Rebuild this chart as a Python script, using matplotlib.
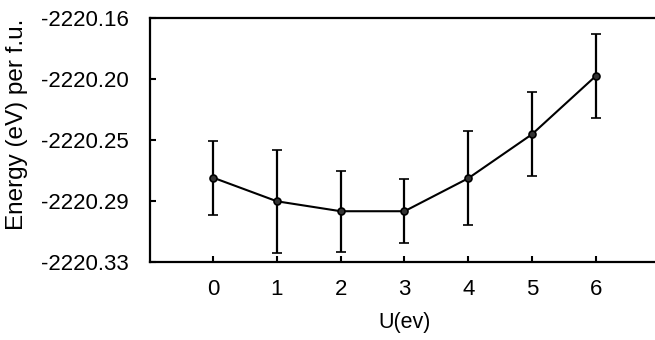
import matplotlib
matplotlib.use("Agg")
import matplotlib.pyplot as plt
import numpy as np

plt.rcParams['font.family'] = ['Liberation Sans', 'DejaVu Sans']

u_values = [0, 1, 2, 3, 4, 5, 6]
energy = [-2220.2714, -2220.2878, -2220.2947, -2220.2947, -2220.2718, -2220.2412, -2220.2007]
energy_err = [0.0258, 0.0357, 0.0282, 0.0223, 0.0328, 0.0292, 0.0292]
y_tick_labels = ['-2220.33', '-2220.29', '-2220.25', '-2220.20', '-2220.16']
x_tick_labels = ['0', '1', '2', '3', '4', '5', '6']

fig = plt.figure(figsize=(6.55, 3.4), dpi=100)
W, H = 655, 340
left, right, top, bottom = 149.5, 659.5, 17.5, 262
ax = fig.add_axes([left / W, 1 - bottom / H, (right - left) / W, (bottom - top) / H])

ax.errorbar(u_values, energy, yerr=energy_err, color='black', lw=1.5,
            elinewidth=1.6, capsize=3.4, capthick=1.6,
            marker='o', markersize=5, mfc='#333333', mec='black', mew=1.2)

ax.set_xlim(-1, 7)
ax.set_ylim(-2220.33, -2220.16)
ax.set_yticks(np.linspace(-2220.33, -2220.16, 5))
ax.set_yticklabels(y_tick_labels)
ax.set_xticks(u_values)
ax.set_xticklabels(x_tick_labels)

for s in ax.spines.values():
    s.set_linewidth(1.6)
ax.tick_params(direction='in', length=4, width=1.5, labelsize=16, pad=7)
ax.tick_params(axis='y', pad=15)
ax.tick_params(axis='x', pad=12)

ax.set_ylabel('Energy (eV) per f.u.', fontsize=17.5, va='center', ha='center')
ax.yaxis.set_label_coords((17 - left) / (right - left), (bottom - 124) / (bottom - top))
ax.set_xlabel('U(ev)', fontsize=15.5, labelpad=9)

fig.savefig('out.png', dpi=100)
